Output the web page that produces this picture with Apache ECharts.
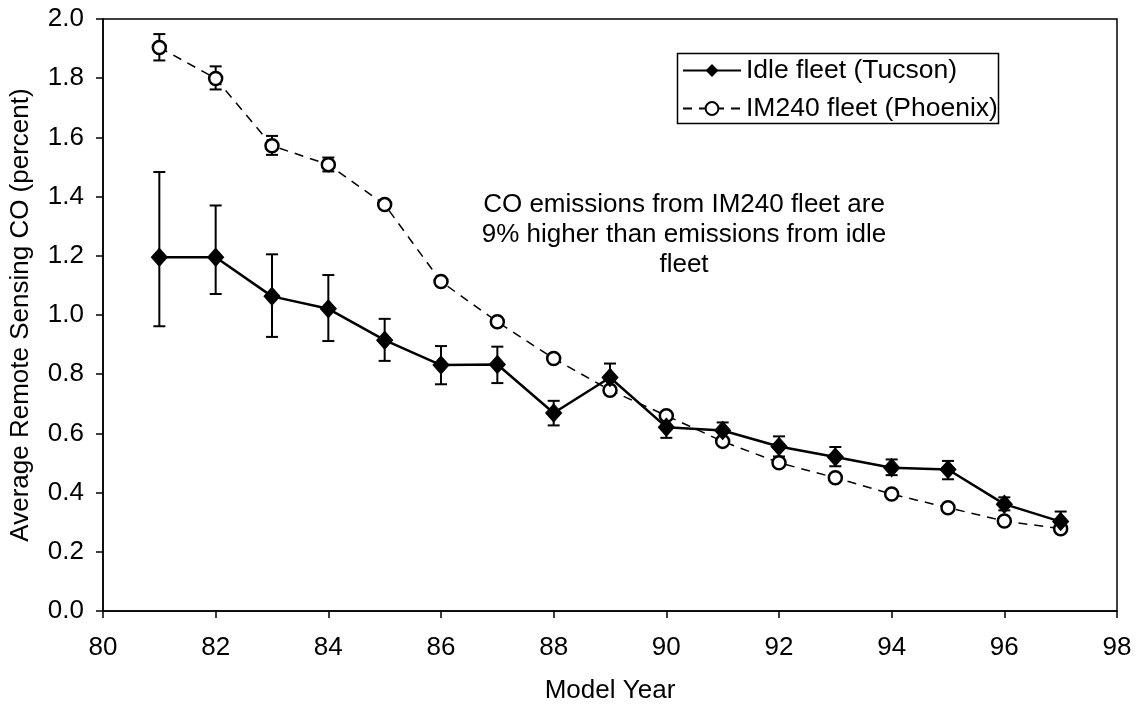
<!DOCTYPE html>
<html>
<head>
<meta charset="utf-8">
<script src="https://cdn.jsdelivr.net/npm/echarts@6/dist/echarts.min.js"></script>
<style>html,body{margin:0;padding:0;background:#fff}#c{width:1136px;height:709px}</style>
</head>
<body>
<div id="c"></div>
<script>
const years = [81,82,83,84,85,86,87,88,89,90,91,92,93,94,95,96,97];
const idle = [1.195,1.195,1.063,1.021,0.915,0.831,0.833,0.669,0.789,0.621,0.610,0.556,0.520,0.484,0.478,0.361,0.302];
const idleHigh = [1.483,1.370,1.205,1.135,0.987,0.895,0.893,0.710,0.836,0.660,0.637,0.590,0.554,0.512,0.507,0.384,0.336];
const idleLow = [0.962,1.071,0.926,0.912,0.845,0.766,0.770,0.627,0.742,0.585,0.583,0.522,0.489,0.459,0.445,0.340,0.270];
const phx = [1.904,1.799,1.572,1.508,1.373,1.113,0.977,0.853,0.746,0.660,0.573,0.501,0.450,0.395,0.349,0.304,0.278];
const phxHigh = [1.949,1.840,1.605,1.532,1.385,1.121,0.984,0.860,0.753,0.667,0.580,0.508,0.457,0.402,0.356,0.311,0.285];
const phxLow = [1.860,1.762,1.541,1.485,1.361,1.105,0.970,0.846,0.739,0.653,0.566,0.494,0.443,0.388,0.342,0.297,0.271];
const xTicks = [80,82,84,86,88,90,92,94,96,98];
const yTicks = [0.0,0.2,0.4,0.6,0.8,1.0,1.2,1.4,1.6,1.8,2.0];
const note = ['CO emissions from IM240 fleet are','9% higher than emissions from idle','fleet'];
const names = ['Idle fleet (Tucson)','IM240 fleet (Phoenix)'];

const FONT = 'Liberation Sans, Arial, sans-serif';
const chart = echarts.init(document.getElementById('c'), null, {renderer:'canvas'});

function errData(lo, hi){ return years.map((y,i)=>[y, lo[i], hi[i]]); }
function errRender(params, api){
  const x = api.value(0);
  const p1 = api.coord([x, api.value(1)]);
  const p2 = api.coord([x, api.value(2)]);
  const w = 6;
  const st = {stroke:'#000', lineWidth:2};
  return {type:'group', children:[
    {type:'line', shape:{x1:p1[0],y1:p1[1],x2:p2[0],y2:p2[1]}, style:st},
    {type:'line', shape:{x1:p1[0]-w,y1:p1[1],x2:p1[0]+w,y2:p1[1]}, style:st},
    {type:'line', shape:{x1:p2[0]-w,y1:p2[1],x2:p2[0]+w,y2:p2[1]}, style:st}
  ]};
}

chart.setOption({
  animation:false,
  backgroundColor:'#fff',
  textStyle:{fontFamily:FONT},
  grid:{left:98,right:19,top:19,bottom:94,show:true,borderColor:'#000',borderWidth:1.5},
  legend:{
    orient:'vertical', left:682, top:57, padding:0,
    itemWidth:58, itemHeight:16, itemGap:11,
    textStyle:{fontFamily:FONT, fontSize:26.5, color:'#000', lineHeight:26},
    data:names
  },
  xAxis:{
    type:'value', min:xTicks[0], max:xTicks[xTicks.length-1], interval:2,
    name:'Model Year', nameLocation:'middle', nameGap:67,
    nameTextStyle:{fontFamily:FONT, fontSize:26, color:'#000'},
    axisLine:{lineStyle:{color:'#000', width:1.5}},
    axisTick:{show:true, length:7, lineStyle:{color:'#000', width:1.5}},
    axisLabel:{fontFamily:FONT, fontSize:26, color:'#000', margin:24},
    splitLine:{show:false}
  },
  yAxis:{
    type:'value', min:yTicks[0], max:yTicks[yTicks.length-1], interval:0.2,
    name:'Average Remote Sensing CO (percent)', nameLocation:'middle', nameGap:69,
    nameTextStyle:{fontFamily:FONT, fontSize:26, color:'#000'},
    axisLine:{show:true, lineStyle:{color:'#000', width:1.5}},
    axisTick:{show:true, length:7, lineStyle:{color:'#000', width:1.5}},
    axisLabel:{fontFamily:FONT, fontSize:26, color:'#000', margin:19, formatter:v=>v.toFixed(1)},
    splitLine:{show:false}
  },
  graphic:[
    {type:'rect', left:675, top:51, shape:{width:321, height:70}, style:{fill:'none', stroke:'#000', lineWidth:1.5}, z:1},
    {type:'text', x:684, y:190, style:{text:note.join('\n'), font:'26px '+FONT, fill:'#000', textAlign:'center', lineHeight:30}}
  ],
  series:[
    {type:'custom', name:'idleErr', data:errData(idleLow, idleHigh), renderItem:errRender, encode:{x:0,y:[1,2]}, z:3, silent:true},
    {type:'custom', name:'phxErr', data:errData(phxLow, phxHigh), renderItem:errRender, encode:{x:0,y:[1,2]}, z:3, silent:true},
    {type:'line', name:names[0], data:years.map((y,i)=>[y, idle[i]]),
      symbol:'diamond', symbolSize:[16,18], showAllSymbol:true,
      itemStyle:{color:'#000', borderColor:'#000'},
      lineStyle:{color:'#000', width:2.5}, z:5},
    {type:'line', name:names[1], data:years.map((y,i)=>[y, phx[i]]),
      symbol:'circle', symbolSize:13, showAllSymbol:true,
      itemStyle:{color:'#fff', borderColor:'#000', borderWidth:2.5},
      lineStyle:{color:'#000', width:1.5, type:[9,7]}, z:4}
  ]
});
</script>
</body>
</html>
